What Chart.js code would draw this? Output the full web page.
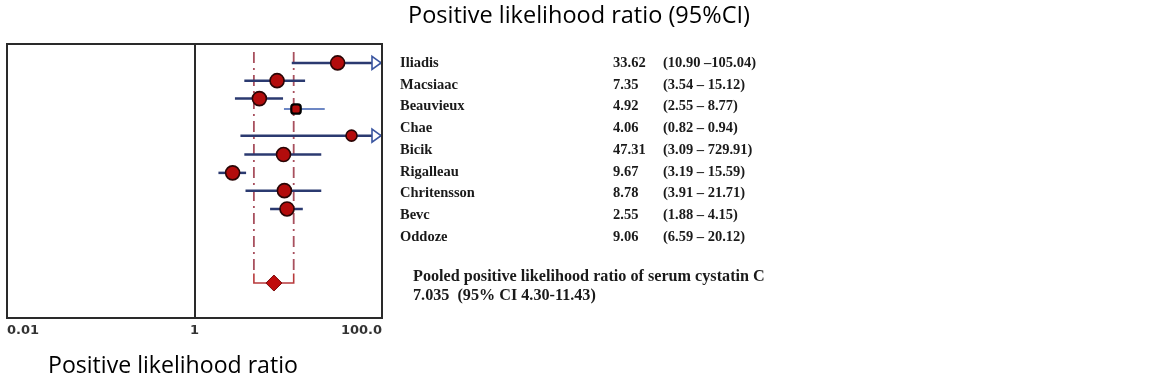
<!DOCTYPE html>
<html><head><meta charset="utf-8">
<script src="https://cdn.jsdelivr.net/npm/chart.js@4"></script>
<style>html,body{margin:0;padding:0;background:#fff;overflow:hidden}</style>
</head><body>
<canvas id="c" width="1149" height="384"></canvas>
<script>
// ---- table text (as printed) ----
const studies = ['Iliadis','Macsiaac','Beauvieux','Chae','Bicik','Rigalleau','Chritensson','Bevc','Oddoze'];
const lrText = ['33.62','7.35','4.92','4.06','47.31','9.67','8.78','2.55','9.06'];
const ciText = ['(10.90 \u2013105.04)','(3.54 \u2013 15.12)','(2.55 \u2013 8.77)','(0.82 \u2013 0.94)','(3.09 \u2013 729.91)','(3.19 \u2013 15.59)','(3.91 \u2013 21.71)','(1.88 \u2013 4.15)','(6.59 \u2013 20.12)'];
// ---- values as plotted ----
const plotEst = [33.62, 7.6, 4.92, 12.1, 47.31, 8.9, 2.55, 9.1, 9.7];
const plotLo  = [10.9, 3.4, 2.7, 9.0, 3.09, 3.4, 1.8, 3.5, 6.4];
const plotHi  = [105.04, 15.12, 8.8, 24.5, 729.91, 22.5, 3.55, 22.5, 14.3];
const plotRow = [1.0, 1.94, 2.89, 3.44, 4.85, 5.85, 6.82, 7.76, 8.73];
const pooledValues = [7.035, 4.30, 11.43]; // estimate, lower, upper
const pooledRow = 12.65;
const refTopRow = 0.42;
const xTicks = [0.01, 1, 100];
const xTickLabels = ['0.01', '1', '100.0'];
const titleText = 'Positive likelihood ratio (95%CI)';
const xTitleText = 'Positive likelihood ratio';
const pooledText = ['Pooled positive likelihood ratio of serum cystatin C', '7.035  (95% CI 4.30-11.43)'];

const X_MIN = 0.01, X_MAX = 100;
const navy = '#2b3a70';
const datasets = [];

// CI lines
studies.forEach((s, i) => {
  datasets.push({
    type: 'line',
    data: [{x: plotLo[i], y: plotRow[i]}, {x: plotHi[i], y: plotRow[i]}],
    borderColor: i === 3 ? '#3d5fb0' : navy,
    borderWidth: i === 3 ? 1.5 : 2.5,
    pointRadius: 0,
    order: 5
  });
});
// pooled CI reference lines (dash-dot)
[1, 2].forEach(k => {
  datasets.push({
    type: 'line',
    data: [{x: pooledValues[k], y: refTopRow}, {x: pooledValues[k], y: pooledRow - 0.5}],
    borderColor: '#a8505e',
    borderWidth: 1.8,
    borderDash: [11, 5, 2, 5],
    pointRadius: 0,
    order: 6
  });
});
// bracket at bottom
datasets.push({
  type: 'line',
  data: [{x: pooledValues[1], y: pooledRow - 0.5}, {x: pooledValues[1], y: pooledRow}, {x: pooledValues[2], y: pooledRow}, {x: pooledValues[2], y: pooledRow - 0.5}],
  borderColor: '#b83a3c',
  borderWidth: 1.6,
  pointRadius: 0,
  order: 6
});
// study points
datasets.push({
  type: 'scatter',
  data: studies.map((s, i) => ({x: plotEst[i], y: plotRow[i]})),
  pointStyle: studies.map((s, i) => i === 3 ? 'rectRounded' : 'circle'),
  pointRadius: studies.map((s, i) => i === 3 ? 5.5 : (i === 4 ? 5.5 : 7)),
  backgroundColor: '#b30c0c',
  borderColor: studies.map((s, i) => i === 3 ? '#000' : '#2a0505'),
  borderWidth: studies.map((s, i) => i === 3 ? 2.2 : 1.6),
  order: 1
});
// pooled diamond
datasets.push({
  type: 'scatter',
  data: [{x: pooledValues[0], y: pooledRow}],
  pointStyle: 'rectRot',
  pointRadius: 8,
  backgroundColor: '#c00d0d',
  borderColor: '#7a0a0a',
  borderWidth: 1,
  order: 0
});

function fitText(ctx, text, x, y, weight, family, width) {
  ctx.font = weight + ' 20px ' + family;
  const w = ctx.measureText(text).width;
  const size = 20 * width / w;
  ctx.font = weight + ' ' + size.toFixed(2) + 'px ' + family;
  ctx.fillText(text, x, y);
}

const boxPlugin = {
  id: 'box',
  afterDatasetsDraw(chart) {
    const {ctx, chartArea: a, scales} = chart;
    const y = scales.y;
    ctx.save();
    ctx.strokeStyle = '#3a55a0';
    ctx.fillStyle = '#fff';
    ctx.lineWidth = 1.6;
    studies.forEach((s, i) => {
      if (plotHi[i] > X_MAX) {
        const py = y.getPixelForValue(plotRow[i]);
        ctx.beginPath();
        ctx.moveTo(a.right - 1, py);
        ctx.lineTo(a.right - 10, py - 6.5);
        ctx.lineTo(a.right - 10, py + 6.5);
        ctx.closePath();
        ctx.fill();
        ctx.stroke();
      }
    });
    ctx.strokeStyle = '#2a2a2a';
    ctx.lineWidth = 2;
    ctx.strokeRect(a.left, a.top, a.right - a.left, a.bottom - a.top);
    ctx.restore();
  },
  afterDraw(chart) {
    const ctx = chart.ctx;
    ctx.save();
    ctx.fillStyle = '#000';
    ctx.textBaseline = 'middle';
    ctx.textAlign = 'left';
    fitText(ctx, titleText, 408, 16, 'normal', '"Open Sans"', 342);
    fitText(ctx, xTitleText, 48, 366, 'normal', '"Open Sans"', 250);
    ctx.fillStyle = '#1a1a1a';
    ctx.font = 'bold 14.5px "Liberation Serif"';
    studies.forEach((s, i) => {
      const ty = 63 + i * 21.75;
      ctx.fillText(s, 400, ty);
      ctx.fillText(lrText[i], 613, ty);
      ctx.fillText(ciText[i], 663, ty);
    });
    fitText(ctx, pooledText[0], 413, 277, 'bold', '"Liberation Serif"', 352);
    ctx.fillText(pooledText[1], 413, 296);
    ctx.restore();
  }
};

new Chart(document.getElementById('c'), {
  type: 'scatter',
  data: {datasets},
  options: {
    responsive: false,
    animation: false,
    events: [],
    layout: {autoPadding: false, padding: {left: 7, right: 767, top: 44, bottom: 40}},
    plugins: {legend: {display: false}, tooltip: {enabled: false}},
    scales: {
      x: {
        type: 'logarithmic',
        min: X_MIN, max: X_MAX,
        afterBuildTicks: sc => { sc.ticks = xTicks.map(v => ({value: v})); },
        ticks: {
          callback: (v, i) => xTickLabels[i],
          font: {family: '"DejaVu Sans"', weight: 'bold', size: 13, lineHeight: 2},
          color: '#333',
          align: 'inner',
          padding: 0,
          maxRotation: 0,
          autoSkip: false
        },
        grid: {
          drawTicks: false,
          lineWidth: 2,
          color: c => (c.tick && c.tick.value === 1) ? '#2a2a2a' : 'rgba(0,0,0,0)'
        },
        border: {display: false}
      },
      y: {type: 'linear', min: 0, max: 14.5, reverse: true, display: false}
    }
  },
  plugins: [boxPlugin]
});
</script>
</body></html>
